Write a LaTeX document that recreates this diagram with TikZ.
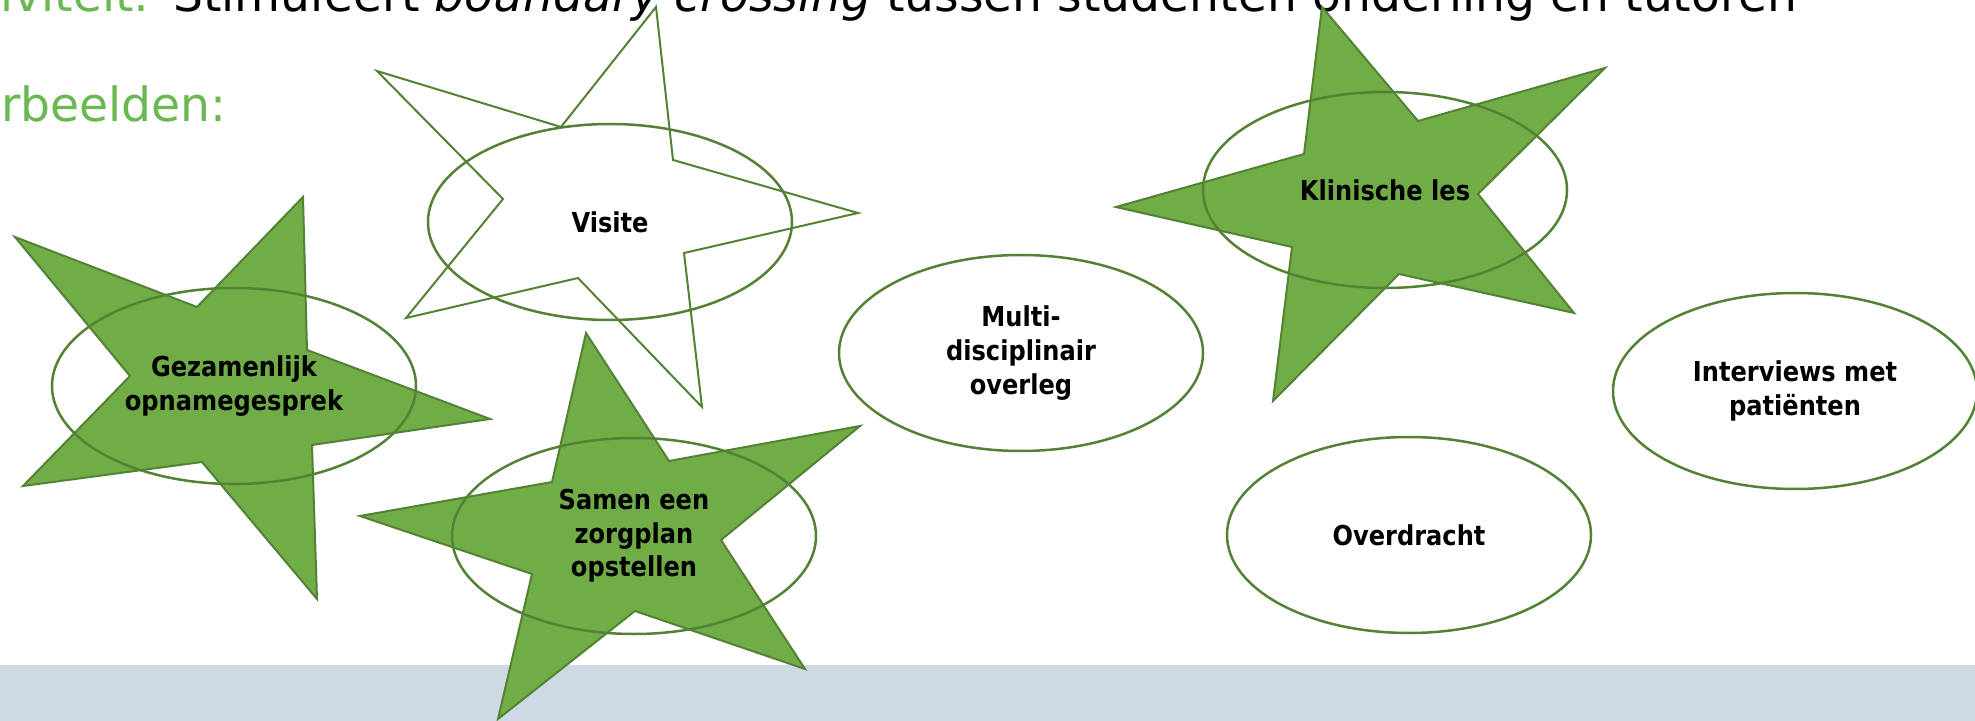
\documentclass[tikz,border=0pt]{standalone}
\usepackage{fontspec}
\usetikzlibrary{shapes.geometric}
\newfontfamily\shapefont[FakeStretch=0.88]{DejaVu Sans}
\newfontfamily\titlefont{DejaVu Sans}
\definecolor{stargreen}{RGB}{112,173,71}
\definecolor{linegreen}{RGB}{84,130,53}
\definecolor{headgreen}{RGB}{106,184,82}
\definecolor{bandgray}{RGB}{206,217,228}

\begin{document}
\begin{tikzpicture}[x=0.5pt, y=-0.5pt,
    starshape/.style={draw=linegreen, line width=1pt, fill=stargreen},
    staroutline/.style={draw=linegreen, line width=1pt},
    bubble/.style={ellipse, draw=linegreen, line width=1.25pt, minimum width=182pt, minimum height=98pt,
        inner sep=0pt, align=center, font=\shapefont\bfseries\fontsize{13.7pt}{16.8pt}\selectfont},
    heading/.style={inner sep=0pt, font=\titlefont\fontsize{23.6pt}{28pt}\selectfont}]
    \useasboundingbox (0,0) rectangle (1975,721);
    \fill[white] (0,0) rectangle (1975,721);
    \clip (0,0) rectangle (1975,721);
    \fill[bandgray] (0,665) rectangle (1975,721);

    % headings, cut off by the slide edge
    \node[heading, anchor=base west] (title) at (173,12)
        {Stimuleert \textit{boundary crossing} tussen studenten onderling en tutoren};
    \node[heading, anchor=base east, text=headgreen] (activity) at (150,12) {Activiteit:};
    \node[heading, anchor=base east, text=headgreen] (examples) at (227,122) {Voorbeelden:};

    % stars
    \filldraw[starshape] (15,237) -- (197,307) -- (303,197) -- (307,350) -- (490,419)
        -- (312,445) -- (317,599) -- (202,462) -- (23,486) -- (130,376) -- cycle;
    \draw[staroutline] (377,71) -- (561,127) -- (656,7) -- (673,160) -- (858,213)
        -- (684,253) -- (702,407) -- (578,278) -- (406,318) -- (503,199) -- cycle;
    \filldraw[starshape] (586,333) -- (669,461) -- (860,426) -- (721,540) -- (805,669)
        -- (635,611) -- (498,719) -- (532,574) -- (360,516) -- (552,482) -- cycle;
    \filldraw[starshape] (1322,7) -- (1418,121) -- (1605,68) -- (1478,194) -- (1574,313)
        -- (1399,274) -- (1273,401) -- (1292,247) -- (1116,207) -- (1304,154) -- cycle;

    % ellipses
    \node[bubble] (gezamenlijk) at (234,386) {Gezamenlijk\\opnamegesprek};
    \node[bubble] (visite) at (610,222) {Visite};
    \node[bubble] (zorgplan) at (634,536) {Samen een\\zorgplan\\opstellen};
    \node[bubble] (overleg) at (1021,353) {Multi-\\disciplinair\\overleg};
    \node[bubble] (klinisch) at (1385,190) {Klinische les};
    \node[bubble] (interviews) at (1795,391) {Interviews met\\patiënten};
    \node[bubble] (overdracht) at (1409,535) {Overdracht};
\end{tikzpicture}
\end{document}
